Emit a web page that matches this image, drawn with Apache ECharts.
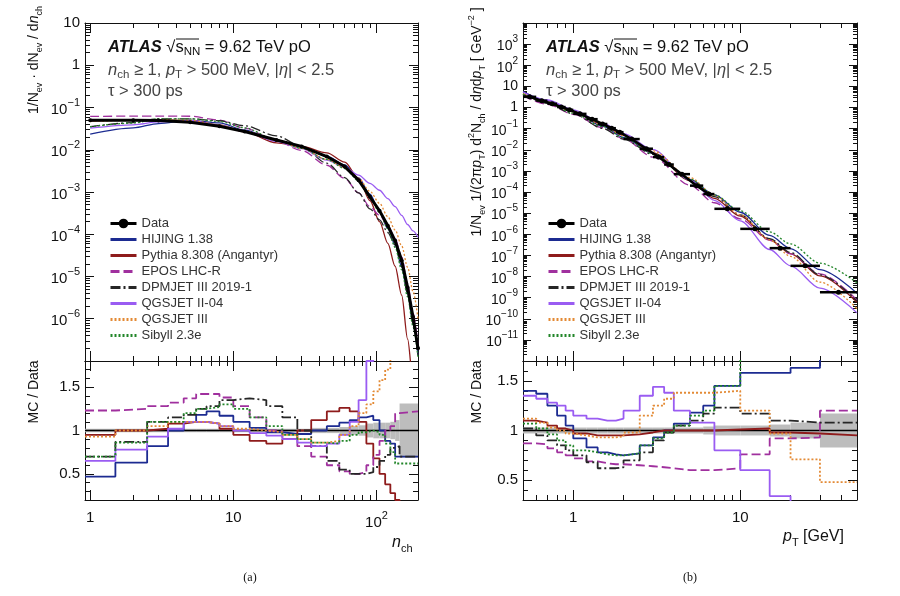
<!DOCTYPE html>
<html>
<head>
<meta charset="utf-8">
<script src="https://cdn.jsdelivr.net/npm/echarts@6/dist/echarts.min.js"></script>
<style>
  html, body { margin: 0; background: #fff; }
  #chart { width: 900px; height: 596px; }
</style>
</head>
<body>
<div id="chart"></div>
<script>
// ---- (a) charged multiplicity ----
const nchMain = [1, 2, 3, 5, 8, 12, 20, 30, 45, 60, 75, 90, 105, 120, 135, 150, 165, 180, 195];
const nchData = [0.050, 0.050, 0.049, 0.045, 0.036, 0.027, 0.017, 0.012, 0.0069, 0.0040, 0.0019, 7.7e-4, 3.6e-4, 1.6e-4, 7.0e-5, 2.4e-5, 5.5e-6, 1.1e-6, 2.0e-7];
const nchHijing = [0.0235, 0.033, 0.0417, 0.0495, 0.0432, 0.0292, 0.0165, 0.0114, 0.0071, 0.0044, 0.00215, 8.9e-4, 3.4e-4, 1.36e-4, 5.5e-5, 1.7e-5, 3.9e-6, 7.7e-7, 1.4e-7];
const nchPythia = [0.0475, 0.050, 0.0515, 0.0495, 0.0389, 0.0265, 0.0146, 0.012, 0.0084, 0.0051, 0.0021, 6.3e-4, 2.0e-4, 6.1e-5, 1.75e-5, 3.6e-6, 3.3e-7, 3.3e-8, 4e-9];
const nchEpos = [0.0615, 0.0625, 0.0627, 0.0621, 0.0504, 0.0324, 0.0162, 0.0096, 0.0043, 0.0021, 9.5e-4, 4.5e-4, 2.8e-4, 1.6e-4, 8e-5, 2.9e-5, 6.7e-6, 1.34e-6, 2.4e-7];
const nchDpmjet = [0.035, 0.044, 0.054, 0.054, 0.0486, 0.037, 0.0213, 0.012, 0.0048, 0.0022, 9.5e-4, 4.0e-4, 2.2e-4, 1.1e-4, 5.6e-5, 1.7e-5, 3.9e-6, 7.7e-7, 1.4e-7];
const nchQgs2 = [0.0325, 0.039, 0.0456, 0.0495, 0.0382, 0.027, 0.0158, 0.0106, 0.0057, 0.0038, 0.0025, 0.0016, 1.1e-3, 7e-4, 4.5e-4, 2.8e-4, 1.7e-4, 1.2e-4, 8.5e-5];
const nchQgs3 = [0.0465, 0.050, 0.0515, 0.0495, 0.0382, 0.0275, 0.0167, 0.0108, 0.0059, 0.0038, 0.0021, 1.04e-3, 5.4e-4, 2.6e-4, 1.26e-4, 5.3e-5, 1.65e-5, 4.4e-6, 1e-6];
const nchSibyll = [0.035, 0.043, 0.054, 0.054, 0.0468, 0.033, 0.017, 0.0108, 0.0059, 0.0036, 0.00184, 7.5e-4, 3.3e-4, 1.36e-4, 4.9e-5, 1.44e-5, 3.3e-6, 6.6e-7, 1.2e-7];

const nchEdges = [0.92, 1.5, 2.5, 3.5, 4.5, 5.5, 6.5, 8, 10, 13, 17, 22, 28, 35, 45, 55, 65, 75, 85, 95, 105, 115, 125, 135, 145, 195];
const nchBand = [0.02, 0.02, 0.02, 0.02, 0.02, 0.02, 0.02, 0.02, 0.02, 0.02, 0.02, 0.02, 0.02, 0.03, 0.03, 0.04, 0.05, 0.06, 0.08, 0.09, 0.09, 0.09, 0.1, 0.12, 0.31];
const rNchHijing = [0.47, 0.63, 0.82, 1.0, 1.1, 1.18, 1.22, 1.17, 1.1, 1.03, 0.98, 0.96, 0.96, 1.0, 1.05, 1.09, 1.12, 1.15, 1.17, 1.12, 1.0, 0.88, 0.85, 0.7, 0.7];
const rNchPythia = [0.95, 1.0, 1.02, 1.08, 1.1, 1.1, 1.08, 1.02, 0.95, 0.88, 0.85, 0.9, 1.0, 1.12, 1.22, 1.26, 1.22, 1.1, 0.85, 0.68, 0.5, 0.38, 0.28, 0.2, 0.1];
const rNchEpos = [1.23, 1.25, 1.28, 1.32, 1.37, 1.42, 1.42, 1.38, 1.28, 1.15, 1.0, 0.9, 0.82, 0.7, 0.6, 0.53, 0.5, 0.52, 0.6, 0.72, 0.88, 1.0, 1.05, 1.2, 1.22];
const rNchDpmjet = [0.7, 0.87, 1.1, 1.15, 1.18, 1.25, 1.28, 1.35, 1.37, 1.35, 1.28, 1.15, 1.0, 0.82, 0.65, 0.55, 0.5, 0.5, 0.52, 0.58, 0.65, 0.72, 0.8, 0.82, 0.7];
const rNchQgs2 = [0.65, 0.78, 0.93, 1.02, 1.1, 1.1, 1.08, 1.05, 1.0, 0.97, 0.94, 0.9, 0.86, 0.82, 0.85, 0.95, 1.1, 1.35, 1.8, 2.5, 3.0, 3.5, 4.0, 4.5, 5.0];
const rNchQgs3 = [0.93, 1.0, 1.05, 1.1, 1.1, 1.1, 1.08, 1.05, 1.02, 1.0, 0.98, 0.95, 0.9, 0.86, 0.88, 0.95, 1.05, 1.2, 1.3, 1.45, 1.58, 1.7, 1.85, 2.0, 2.2];
const rNchSibyll = [0.7, 0.86, 1.1, 1.1, 1.2, 1.25, 1.27, 1.3, 1.25, 1.15, 1.05, 0.95, 0.9, 0.86, 0.85, 0.88, 0.95, 0.98, 1.0, 0.98, 0.95, 0.85, 0.75, 0.62, 0.62];

// ---- (b) transverse momentum ----
const ptMain = [0.5, 0.7, 1, 1.5, 2, 3, 5, 7, 10, 15, 20, 30, 50];
const ptHijing = [5.6, 2.1, 0.66, 0.13, 0.038, 6.7e-3, 4.0e-4, 7.3e-5, 1.1e-5, 8.8e-7, 2.1e-7, 2.1e-8, 1.6e-9];
const ptPythia = [4.4, 1.78, 0.64, 0.158, 0.048, 7.1e-3, 3.5e-4, 5.0e-5, 7.2e-6, 5.5e-7, 1.22e-7, 1.06e-8, 6.0e-10];
const ptEpos = [3.5, 1.42, 0.48, 0.111, 0.033, 4.5e-3, 2.1e-4, 3.1e-5, 5.3e-6, 5.2e-7, 1.17e-7, 1.34e-8, 7.6e-10];
const ptDpmjet = [4.1, 1.57, 0.50, 0.103, 0.0315, 6.0e-3, 3.85e-4, 6.1e-5, 8.3e-6, 6.2e-7, 1.36e-7, 1.21e-8, 6.8e-10];
const ptQgs2 = [5.4, 2.26, 0.78, 0.183, 0.0575, 0.0101, 3.7e-4, 4.0e-5, 4.3e-6, 1.9e-7, 3.2e-8, 2.8e-9, 1.9e-10];
const ptQgs3 = [4.5, 1.83, 0.63, 0.154, 0.0475, 8.9e-3, 4.8e-4, 7.0e-5, 8.5e-6, 5.4e-7, 9.0e-8, 5.4e-9, 3.0e-10];
const ptSibyll = [4.3, 1.69, 0.54, 0.126, 0.0375, 6.7e-3, 4.0e-4, 7.3e-5, 1.28e-5, 1.29e-6, 3.5e-7, 4.3e-8, 5.0e-9];

const ptEdges = [0.5, 0.6, 0.7, 0.8, 0.9, 1.0, 1.2, 1.4, 1.6, 1.8, 2.0, 2.5, 3.0, 3.5, 4.0, 5.0, 6.0, 7.0, 10, 15, 20, 30, 50];
const ptData = [3.2, 2.1, 1.5, 1.05, 0.78, 0.5, 0.28, 0.166, 0.105, 0.068, 0.032, 0.0112, 4.5e-3, 2.0e-3, 7.0e-4, 2.0e-4, 8.0e-5, 1.6e-5, 1.8e-6, 2.2e-7, 3.2e-8, 1.8e-9];
const ptBand = [0.03, 0.03, 0.03, 0.03, 0.03, 0.03, 0.03, 0.03, 0.03, 0.03, 0.03, 0.03, 0.03, 0.03, 0.03, 0.03, 0.04, 0.05, 0.05, 0.06, 0.08, 0.17];
const rPtHijing = [1.4, 1.37, 1.25, 1.15, 1.05, 0.92, 0.83, 0.78, 0.76, 0.75, 0.77, 0.85, 0.93, 1.0, 1.07, 1.18, 1.25, 1.45, 1.58, 1.58, 1.63, 1.9];
const rPtPythia = [1.1, 1.08, 1.05, 1.02, 1.0, 0.97, 0.95, 0.95, 0.95, 0.95, 0.96, 0.98, 1.0, 1.0, 1.0, 1.0, 1.0, 1.01, 1.02, 0.98, 0.97, 0.95];
const rPtEpos = [0.87, 0.86, 0.82, 0.78, 0.75, 0.72, 0.69, 0.67, 0.66, 0.66, 0.65, 0.64, 0.63, 0.62, 0.6, 0.6, 0.6, 0.62, 0.76, 0.92, 0.93, 1.2];
const rPtDpmjet = [1.02, 0.95, 0.9, 0.85, 0.8, 0.75, 0.68, 0.62, 0.62, 0.63, 0.7, 0.78, 0.9, 0.98, 1.05, 1.1, 1.17, 1.23, 1.17, 1.1, 1.08, 1.08];
const rPtQgs2 = [1.35, 1.32, 1.28, 1.25, 1.2, 1.15, 1.12, 1.1, 1.1, 1.12, 1.2, 1.35, 1.44, 1.38, 1.2, 1.08, 1.08, 0.8, 0.6, 0.34, 0.25, 0.2];
const rPtQgs3 = [1.12, 1.08, 1.03, 1.0, 0.97, 0.95, 0.93, 0.93, 0.93, 0.94, 0.98, 1.15, 1.25, 1.32, 1.38, 1.38, 1.38, 1.4, 1.2, 0.97, 0.71, 0.48];
const rPtSibyll = [1.07, 1.02, 0.96, 0.9, 0.85, 0.8, 0.78, 0.76, 0.75, 0.75, 0.77, 0.85, 0.92, 0.98, 1.05, 1.15, 1.2, 1.45, 1.9, 2.2, 2.6, 3.5];

// ---- tick labels ----
const nchTicks = [1, 10, 100];
const ptTicks = [1, 10];
const yTicksA = [1e-6, 1e-5, 1e-4, 1e-3, 1e-2, 1e-1, 1, 10];
const yTicksB = [1e-11, 1e-10, 1e-9, 1e-8, 1e-7, 1e-6, 1e-5, 1e-4, 1e-3, 1e-2, 1e-1, 1, 10, 100, 1000];
const ratioTicks = [0.5, 1, 1.5];

const models = ['HIJING 1.38', 'Pythia 8.308 (Angantyr)', 'EPOS LHC-R', 'DPMJET III 2019-1', 'QGSJET II-04', 'QGSJET III', 'Sibyll 2.3e'];
const colors = ['#1c2b91', '#8e1b1b', '#a0309e', '#262626', '#9a5cf2', '#e38a35', '#23862a'];
const dashes = ['solid', 'solid', [9, 4], [10, 3, 2, 3], 'solid', [2, 2], [2, 2]];

const FONT = '"Liberation Sans", Arial, sans-serif';
const zip = (xs, ys) => xs.map((x, i) => [x, ys[i]]);
const steps = (edges, vals) => edges.map((e, i) => [e, vals[Math.min(i, vals.length - 1)]]);

// log tick helpers
function decades(lo, hi) { const a = []; for (let e = lo; e <= hi; e++) a.push(Math.pow(10, e)); return a; }
function logMinors(lo, hi, min, max) {
  const a = [];
  for (let e = lo; e <= hi; e++) for (let k = 2; k <= 9; k++) {
    const v = k * Math.pow(10, e);
    if (v > min && v < max) a.push(v);
  }
  return a;
}
function linTicks(from, to, step) { const a = []; for (let v = from; v <= to + 1e-9; v += step) a.push(Math.round(v * 100) / 100); return a; }

function powLabel(v) {
  const e = Math.round(Math.log10(v));
  if (e === 0) return '1';
  if (e === 1) return '10';
  return '{b|10}{s|' + (e < 0 ? '\u2212' : '') + Math.abs(e) + '}';
}
function labRich(size) {
  return {
    b: { fontSize: size, fontFamily: FONT, color: '#111', verticalAlign: 'bottom', lineHeight: size + 5 },
    s: { fontSize: size - 4, fontFamily: FONT, color: '#111', verticalAlign: 'top', lineHeight: size + 5 }
  };
}

const xAxes = [], yAxes = [];
function addAxis(list, base, sides, majors, minors, majorLen, minorLen, label) {
  const idx = list.length;
  sides.forEach((pos, k) => {
    list.push(Object.assign({}, base, {
      position: pos,
      axisLine: { show: true, onZero: false, lineStyle: { color: '#111', width: 1 } },
      axisTick: { show: true, inside: true, length: majorLen, customValues: majors, lineStyle: { color: '#111' } },
      axisLabel: (k === 0 && label) ? label : { show: false },
      splitLine: { show: false }
    }));
    list.push(Object.assign({}, base, {
      position: pos,
      axisLine: { show: false, onZero: false },
      axisTick: { show: true, inside: true, length: minorLen, customValues: minors, lineStyle: { color: '#111' } },
      axisLabel: { show: false },
      splitLine: { show: false }
    }));
  });
  return idx;
}

const grids = [
  { left: 85, top: 23, width: 333, height: 338 },
  { left: 85, top: 361, width: 333, height: 139 },
  { left: 523, top: 23, width: 334, height: 338 },
  { left: 523, top: 361, width: 334, height: 139 }
];

const xA = { type: 'log', min: 0.92, max: 195 };
const xB = { type: 'log', min: 0.5, max: 50 };
const xAmaj = nchTicks, xAmin = logMinors(0, 2, 0.92, 195);
const xBmaj = ptTicks, xBmin = logMinors(-1, 1, 0.5, 50);

const xLab = (vals) => ({ show: true, customValues: vals, formatter: powLabel, rich: labRich(15), margin: 10, fontSize: 15, fontFamily: FONT, color: '#111' });

const xi0 = addAxis(xAxes, Object.assign({ gridIndex: 0 }, xA), ['bottom', 'top'], xAmaj, xAmin, 10, 5, null);
const xi1 = addAxis(xAxes, Object.assign({ gridIndex: 1 }, xA), ['bottom', 'top'], xAmaj, xAmin, 10, 5, xLab(nchTicks));
const xi2 = addAxis(xAxes, Object.assign({ gridIndex: 2 }, xB), ['bottom', 'top'], xBmaj, xBmin, 10, 5, null);
const xi3 = addAxis(xAxes, Object.assign({ gridIndex: 3 }, xB), ['bottom', 'top'], xBmaj, xBmin, 10, 5, xLab(ptTicks));

const yi0 = addAxis(yAxes, { gridIndex: 0, type: 'log', min: 1e-7, max: 10 }, ['left', 'right'],
  decades(-7, 1), logMinors(-7, 0, 1e-7, 10), 9, 5,
  { show: true, customValues: yTicksA, formatter: powLabel, rich: labRich(15), margin: 5, fontSize: 15, fontFamily: FONT, color: '#111' });
const yi1 = addAxis(yAxes, { gridIndex: 1, type: 'value', min: 0.2, max: 1.8 }, ['left', 'right'],
  ratioTicks, linTicks(0.2, 1.8, 0.1), 9, 5,
  { show: true, customValues: ratioTicks, formatter: v => String(v), margin: 5, fontSize: 15, fontFamily: FONT, color: '#111' });
const yi2 = addAxis(yAxes, { gridIndex: 2, type: 'log', min: 1e-12, max: 1e4 }, ['left', 'right'],
  decades(-12, 4), logMinors(-12, 3, 1e-12, 1e4), 8, 4,
  { show: true, customValues: yTicksB, formatter: powLabel, rich: labRich(14), margin: 5, fontSize: 14, fontFamily: FONT, color: '#111' });
const yi3 = addAxis(yAxes, { gridIndex: 3, type: 'value', min: 0.3, max: 1.7 }, ['left', 'right'],
  ratioTicks, linTicks(0.3, 1.7, 0.1), 9, 5,
  { show: true, customValues: ratioTicks, formatter: v => String(v), margin: 5, fontSize: 15, fontFamily: FONT, color: '#111' });

const mainA = [nchHijing, nchPythia, nchEpos, nchDpmjet, nchQgs2, nchQgs3, nchSibyll];
const ratioA = [rNchHijing, rNchPythia, rNchEpos, rNchDpmjet, rNchQgs2, rNchQgs3, rNchSibyll];
const mainB = [ptHijing, ptPythia, ptEpos, ptDpmjet, ptQgs2, ptQgs3, ptSibyll];
const ratioB = [rPtHijing, rPtPythia, rPtEpos, rPtDpmjet, rPtQgs2, rPtQgs3, rPtSibyll];

function bandSeries(xi, yi, edges, band) {
  return {
    type: 'custom', name: 'band', xAxisIndex: xi, yAxisIndex: yi, silent: true, z: 1,
    encode: { x: [0, 1], y: [2, 3] },
    data: band.map((b, i) => [edges[i], edges[i + 1], 1 - b, 1 + b]),
    renderItem(params, api) {
      const p0 = api.coord([api.value(0), api.value(3)]);
      const p1 = api.coord([api.value(1), api.value(2)]);
      const cs = params.coordSys;
      const r = echarts.graphic.clipRectByRect(
        { x: p0[0], y: p0[1], width: p1[0] - p0[0], height: p1[1] - p0[1] },
        { x: cs.x, y: cs.y, width: cs.width, height: cs.height });
      return r && { type: 'rect', shape: r, style: { fill: '#bdbdbd' } };
    }
  };
}

const series = [];
// (a) main
series.push({
  name: 'Data', type: 'line', xAxisIndex: xi0, yAxisIndex: yi0, data: zip(nchMain, nchData),
  symbol: 'circle', symbolSize: 4, showSymbol: true, z: 5,
  lineStyle: { color: '#000', width: 3 }, itemStyle: { color: '#000' }
});
models.forEach((m, k) => series.push({
  name: m, type: 'line', xAxisIndex: xi0, yAxisIndex: yi0, data: zip(nchMain, mainA[k]),
  symbol: 'none', smooth: 0.3, smoothMonotone: 'x', z: 3,
  lineStyle: { color: colors[k], width: 1.3, type: dashes[k] }, itemStyle: { color: colors[k] }
}));
// (a) ratio
series.push(bandSeries(xi1, yi1, nchEdges, nchBand));
series.push({
  name: 'Data', type: 'line', xAxisIndex: xi1, yAxisIndex: yi1, data: steps(nchEdges, nchBand.map(() => 1)),
  symbol: 'none', z: 2, lineStyle: { color: '#000', width: 1.5 }
});
models.forEach((m, k) => series.push({
  name: m, type: 'line', step: 'end', xAxisIndex: xi1, yAxisIndex: yi1, data: steps(nchEdges, ratioA[k]),
  symbol: 'none', z: 3, lineStyle: { color: colors[k], width: 1.8, type: dashes[k] }, itemStyle: { color: colors[k] }
}));
// (b) main
models.forEach((m, k) => series.push({
  name: m, type: 'line', xAxisIndex: xi2, yAxisIndex: yi2, data: zip(ptMain, mainB[k]),
  symbol: 'none', smooth: 0.3, smoothMonotone: 'x', z: 3,
  lineStyle: { color: colors[k], width: 1.3, type: dashes[k] }, itemStyle: { color: colors[k] }
}));
// dense low-pT bins read as one thick line
series.push({
  name: 'Data', type: 'line', xAxisIndex: xi2, yAxisIndex: yi2, symbol: 'none', z: 4,
  data: ptData.slice(0, 17).map((v, i) => [Math.sqrt(ptEdges[i] * ptEdges[i + 1]), v]),
  lineStyle: { color: '#000', width: 2.5 }
});
series.push({
  type: 'custom', name: 'Data', xAxisIndex: xi2, yAxisIndex: yi2, z: 5,
  encode: { x: [0, 1], y: 2 },
  data: ptData.map((v, i) => [ptEdges[i], ptEdges[i + 1], v]),
  renderItem(params, api) {
    const a = api.coord([api.value(0), api.value(2)]);
    const b = api.coord([api.value(1), api.value(2)]);
    const c = api.coord([Math.sqrt(api.value(0) * api.value(1)), api.value(2)]);
    return {
      type: 'group', children: [
        { type: 'line', shape: { x1: a[0], y1: a[1], x2: b[0], y2: b[1] }, style: { stroke: '#000', lineWidth: 2.5 } },
        { type: 'circle', shape: { cx: c[0], cy: c[1], r: 2.5 }, style: { fill: '#000' } }
      ]
    };
  }
});
// (b) ratio
series.push(bandSeries(xi3, yi3, ptEdges, ptBand));
series.push({
  name: 'Data', type: 'line', xAxisIndex: xi3, yAxisIndex: yi3, data: steps(ptEdges, ptBand.map(() => 1)),
  symbol: 'none', z: 2, lineStyle: { color: '#000', width: 1.5 }
});
models.forEach((m, k) => series.push({
  name: m, type: 'line', step: 'end', xAxisIndex: xi3, yAxisIndex: yi3, data: steps(ptEdges, ratioB[k]),
  symbol: 'none', z: 3, lineStyle: { color: colors[k], width: 1.8, type: dashes[k] }, itemStyle: { color: colors[k] }
}));

// legend: model entries show only their line
const legendNames = [{ name: 'Data' }].concat(models.map(m => ({ name: m, itemStyle: { opacity: 0 } })));
const legendBase = {
  orient: 'vertical', top: 212, data: legendNames, selectedMode: false,
  itemWidth: 26, itemHeight: 12, itemGap: 3,
  lineStyle: { width: 3 },
  textStyle: { fontSize: 13, color: '#333', fontFamily: FONT }
};

function rich(size, fill) {
  return {
    r: { fontFamily: FONT, fontSize: size, fill, verticalAlign: 'middle', lineHeight: size + 6 },
    i: { fontFamily: FONT, fontSize: size, fill, fontStyle: 'italic', verticalAlign: 'middle', lineHeight: size + 6 },
    sb: { fontFamily: FONT, fontSize: size - 5, fill, verticalAlign: 'bottom', lineHeight: size + 6 },
    sp: { fontFamily: FONT, fontSize: size - 5, fill, verticalAlign: 'top', lineHeight: size + 6 },
    a: { fontFamily: FONT, fontSize: size, fill, fontWeight: 'bold', fontStyle: 'italic', verticalAlign: 'middle', lineHeight: size + 6 }
  };
}
function txt(x, y, text, size, fill, extra) {
  return Object.assign({
    type: 'text', x, y,
    style: { text, rich: rich(size, fill), fontFamily: FONT, fontSize: size, fill, align: 'left', verticalAlign: 'middle' }
  }, extra || {});
}
function header(x) {
  return [
    txt(x, 47, '{a|ATLAS} {r|\u221A}{r|s}{sb|NN}{r| = 9.62 TeV pO}', 16.5, '#111'),
    { type: 'line', shape: { x1: x + 68, y1: 39, x2: x + 91, y2: 39 }, style: { stroke: '#111', lineWidth: 1 } },
    txt(x, 70, '{i|n}{sb|ch}{r| \u2265 1, }{i|p}{sb|T}{r| > 500 MeV, |}{i|\u03B7}{r|| < 2.5}', 16.5, '#444'),
    txt(x, 91, '{r|\u03C4 > 300 ps}', 16.5, '#444')
  ];
}
function vtxt(x, y, text, size) {
  const t = txt(x, y, text, size, '#111');
  t.rotation = Math.PI / 2;
  t.style.align = 'center';
  return t;
}

const graphic = [].concat(
  header(108), header(546),
  [
    vtxt(34, 60, '{r|1/N}{sb|ev}{r| \u00B7 dN}{sb|ev}{r| / d}{i|n}{sb|ch}', 14),
    vtxt(34, 392, '{r|MC / Data}', 14),
    vtxt(477, 122, '{r|1/N}{sb|ev}{r| 1/(2\u03C0}{i|p}{sb|T}{r|) d}{sp|2}{r|N}{sb|ch}{r| / d}{i|\u03B7}{r|d}{i|p}{sb|T}{r| [ GeV}{sp|\u22122}{r| ]}', 14),
    vtxt(477, 392, '{r|MC / Data}', 14),
    txt(392, 543, '{i|n}{sb|ch}', 16, '#111'),
    txt(783, 537, '{i|p}{sb|T}{r| [GeV]}', 16, '#111'),
    { type: 'text', x: 250, y: 578, style: { text: '(a)', fontFamily: '"Liberation Serif", serif', fontSize: 12, fill: '#111', align: 'center', verticalAlign: 'middle' } },
    { type: 'text', x: 690, y: 578, style: { text: '(b)', fontFamily: '"Liberation Serif", serif', fontSize: 12, fill: '#111', align: 'center', verticalAlign: 'middle' } }
  ]
);

const chart = echarts.init(document.getElementById('chart'));
chart.setOption({
  animation: false,
  backgroundColor: '#fff',
  grid: grids,
  xAxis: xAxes,
  yAxis: yAxes,
  legend: [Object.assign({ left: 104 }, legendBase), Object.assign({ left: 542 }, legendBase)],
  graphic,
  series
});
window.addEventListener('resize', function () { chart.resize(); });
</script>
</body>
</html>
